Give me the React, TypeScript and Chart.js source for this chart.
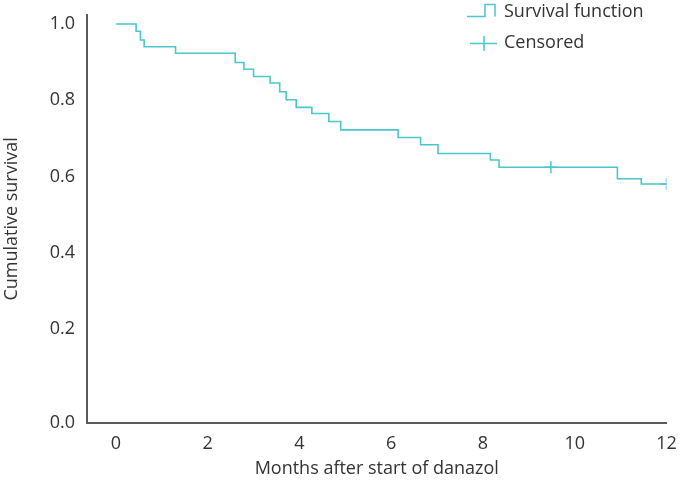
import React, { useEffect, useRef } from "react";
import { Chart, registerables } from "chart.js";

Chart.register(...registerables);

// Kaplan-Meier step points (months, cumulative survival)
const eventTimes = [0, 0.44, 0.535, 0.615, 1.3, 2.6, 2.79, 3.0, 3.36, 3.57, 3.71, 3.93, 4.27, 4.64, 4.9, 6.15, 6.64, 7.02, 8.16, 8.35, 10.93, 11.45, 12];
const survival = [1, 0.981, 0.958, 0.94, 0.923, 0.899, 0.881, 0.862, 0.845, 0.822, 0.801, 0.781, 0.765, 0.744, 0.722, 0.702, 0.683, 0.66, 0.643, 0.624, 0.594, 0.58, 0.58];
const censorTimes = [9.48, 12];
const censorSurvival = [0.624, 0.58];
const xTicks = [0, 2, 4, 6, 8, 10, 12];
const yTicks = [0.2, 0.4, 0.6, 0.8, 1.0];
const legendLabels = ["Survival function", "Censored"];
const xTitle = "Months after start of danazol";
const yTitle = "Cumulative survival";

const LINE = "#4ac6cc";
const AXIS = "#5a5a5a";
const TEXT = "#333333";
const FONT = "'Open Sans', 'Noto Sans', sans-serif";

const Y_MIN = -0.047;
const Y_MAX = 1.024;

const legendPlugin = {
  id: "kmLegend",
  afterDraw(chart: any) {
    const ctx = chart.ctx;
    ctx.save();
    ctx.strokeStyle = LINE;
    ctx.lineWidth = 1.5;
    // step symbol
    ctx.beginPath();
    ctx.moveTo(467, 16.5);
    ctx.lineTo(485, 16.5);
    ctx.lineTo(485, 4.5);
    ctx.lineTo(495, 4.5);
    ctx.lineTo(495, 16.5);
    ctx.stroke();
    // censored symbol
    ctx.beginPath();
    ctx.moveTo(470, 43.5);
    ctx.lineTo(497, 43.5);
    ctx.moveTo(484, 36);
    ctx.lineTo(484, 51);
    ctx.stroke();
    ctx.fillStyle = TEXT;
    ctx.font = "18px " + FONT;
    ctx.textAlign = "left";
    ctx.textBaseline = "middle";
    ctx.fillText(legendLabels[0], 504, 12);
    ctx.fillText(legendLabels[1], 504, 43);
    ctx.restore();
  },
};

export default function App() {
  const ref = useRef<HTMLCanvasElement>(null);
  useEffect(() => {
    document.body.style.margin = "0";
    const canvas = ref.current;
    if (!canvas) return;
    const chart = new Chart(canvas, {
      type: "line",
      data: {
        datasets: [
          {
            label: legendLabels[0],
            data: eventTimes.map((t, i) => ({ x: t, y: survival[i] })),
            borderColor: LINE,
            borderWidth: 1.6,
            stepped: "before",
            pointRadius: 0,
            fill: false,
          },
          {
            label: legendLabels[1],
            data: censorTimes.map((t, i) => ({ x: t, y: censorSurvival[i] })),
            showLine: false,
            pointStyle: "cross",
            pointRadius: 6,
            borderColor: LINE,
            borderWidth: 1.5,
          },
        ],
      },
      options: {
        animation: false,
        responsive: false,
        maintainAspectRatio: false,
        layout: { padding: { top: 3, right: 20.5, left: 0, bottom: 0 } },
        plugins: { legend: { display: false }, tooltip: { enabled: false } },
        scales: {
          x: {
            type: "linear",
            min: -0.63,
            max: 12,
            afterBuildTicks: (s: any) => {
              s.ticks = xTicks.map((v) => ({ value: v }));
            },
            afterFit: (s: any) => {
              s.height = 69;
            },
            grid: { display: false, drawTicks: true, tickLength: 8, tickColor: AXIS, tickWidth: 1.5 },
            border: { color: AXIS, width: 2 },
            ticks: { color: TEXT, font: { family: FONT, size: 18 }, padding: 2, maxRotation: 0, autoSkip: false },
            title: { display: true, text: xTitle, color: TEXT, font: { family: FONT, size: 18 }, padding: { top: 0, bottom: 12 } },
          },
          y: {
            type: "linear",
            min: Y_MIN,
            max: Y_MAX,
            afterBuildTicks: (s: any) => {
              s.ticks = [Y_MIN, ...yTicks].map((v) => ({ value: v }));
            },
            afterFit: (s: any) => {
              s.width = 87;
            },
            grid: { display: false, drawTicks: true, tickLength: 8, tickColor: AXIS, tickWidth: 1.5 },
            border: { color: AXIS, width: 2 },
            ticks: {
              color: TEXT,
              font: { family: FONT, size: 18 },
              padding: 4,
              autoSkip: false,
              callback: (v: any) => (v < 0.1 ? "0.0" : Number(v).toFixed(1)),
            },
            title: { display: true, text: yTitle, color: TEXT, font: { family: FONT, size: 18 }, padding: { top: 1, bottom: 0 } },
          },
        },
      },
      plugins: [legendPlugin],
    });
    return () => chart.destroy();
  }, []);
  return (
    <div style={{ width: 687, height: 492, background: "#fff" }}>
      <canvas ref={ref} width={687} height={492} style={{ display: "block" }} />
    </div>
  );
}
